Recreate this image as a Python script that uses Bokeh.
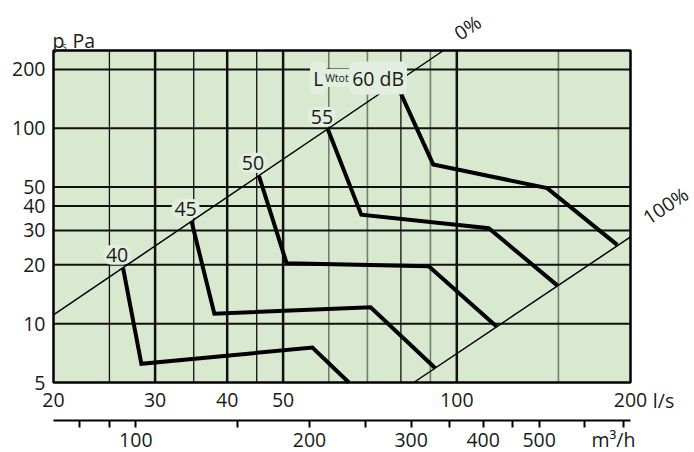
import math
from bokeh.plotting import figure
from bokeh.models import (Range1d, LogScale, LogAxis, FixedTicker, Label,
                          NumeralTickFormatter, CustomJSTickFormatter)
from bokeh.embed import file_html
from bokeh.resources import INLINE

FONT = "Open Sans"
TXT = "#1a1a1a"
FS = "19.5px"
GREEN = "#d9e9cf"
LBG = "#e2eedf"

# ---------------- data ----------------
X_LO, X_HI = 20, 200          # l/s
Y_LO, Y_HI = 5, 250           # Pa
LS_TO_M3H = 3.6

ls_ticks = [20, 30, 40, 50, 100, 200]
pa_ticks = [5, 10, 20, 30, 40, 50, 100, 200]
grid_x_thick = [30, 40, 50, 100]
grid_x_thin = [25, 35, 45, 80]
grid_x_grey = [60, 70, 90, 150]
grid_y = [10, 20, 30, 40, 50, 100, 200]
m3h_ticks = [80, 90, 100, 150, 200, 250, 300, 350, 400, 450, 500, 600, 700]
m3h_labelled = [100, 200, 300, 400, 500]

level_text = ["40", "45", "50", "55"]
q_40 = [26.4, 28.4, 56.2, 65.0]
p_40 = [19.3, 6.23, 7.55, 5.0]
q_45 = [34.7, 38.0, 70.9, 91.8]
p_45 = [33.3, 11.25, 12.13, 5.91]
q_50 = [45.4, 50.7, 89.4, 117.2]
p_50 = [57.1, 20.4, 19.7, 9.68]
q_55 = [59.8, 68.3, 113.6, 149.3]
p_55 = [98.5, 36.1, 30.8, 15.7]
q_60 = [78.5, 91.0, 143.4, 189.7]
p_60 = [170.3, 65.3, 49.4, 25.3]
curves = [(q_40, p_40), (q_45, p_45), (q_50, p_50), (q_55, p_55), (q_60, p_60)]

q_0pct = [20, 94.8]
p_0pct = [11.1, 250]
q_100pct = [84.2, 200]
p_100pct = [5.0, 27.8]

# ---------------- layout (pixels) ----------------
W, H = 694, 452
PL, PR, PT, PB = 53, 630, 50, 382
kx = (math.log10(X_HI) - math.log10(X_LO)) / (PR - PL)
ky = (math.log10(Y_HI) - math.log10(Y_LO)) / (PB - PT)


def dx(px):
    return 10 ** (math.log10(X_LO) + (px - PL) * kx)


def dy(py):
    return 10 ** (math.log10(Y_LO) + (PB - py) * ky)


p = figure(width=W, height=H, x_axis_type="log", y_axis_type="log",
           x_range=Range1d(dx(0), dx(W)), y_range=Range1d(dy(H), dy(0)),
           output_backend="svg", toolbar_location=None, title=None,
           min_border_left=0, min_border_right=0, min_border_top=0, min_border_bottom=0)
p.extra_x_ranges = {"m3h": Range1d(dx(0) * LS_TO_M3H, dx(W) * LS_TO_M3H)}
p.extra_x_scales = {"m3h": LogScale()}
p.background_fill_color = "white"
p.border_fill_color = "white"
p.outline_line_color = None
p.xgrid.visible = False
p.ygrid.visible = False

# plot area
p.quad(left=[X_LO], right=[X_HI], bottom=[Y_LO], top=[Y_HI], fill_color=GREEN, line_color=None)

# grid lines
p.segment(x0=grid_x_grey, x1=grid_x_grey, y0=[Y_LO] * len(grid_x_grey), y1=[Y_HI] * len(grid_x_grey),
          line_color="#6f806c", line_width=1.6)
p.segment(x0=grid_x_thin, x1=grid_x_thin, y0=[Y_LO] * len(grid_x_thin), y1=[Y_HI] * len(grid_x_thin),
          line_color="#111111", line_width=1.3)
p.segment(x0=grid_x_thick, x1=grid_x_thick, y0=[Y_LO] * len(grid_x_thick), y1=[Y_HI] * len(grid_x_thick),
          line_color="#111111", line_width=2.5)
p.segment(x0=[X_LO] * len(grid_y), x1=[X_HI] * len(grid_y), y0=grid_y, y1=grid_y,
          line_color="#111111", line_width=2)

# damper lines and sound curves
p.line(q_0pct, p_0pct, line_color="black", line_width=1.5)
p.line(q_100pct, p_100pct, line_color="black", line_width=1.5)
for q, pa in curves:
    p.line(q, pa, line_color="black", line_width=4, line_join="miter")

# frame
p.quad(left=[X_LO], right=[X_HI], bottom=[Y_LO], top=[Y_HI], fill_color=None,
       line_color="black", line_width=2.5)

# ---------------- axes ----------------
xa = p.xaxis[0]
xa.fixed_location = Y_LO
xa.bounds = (X_LO, X_HI)
xa.ticker = FixedTicker(ticks=ls_ticks)
xa.formatter = NumeralTickFormatter(format="0")
xa.axis_line_color = None
xa.major_tick_line_color = None
xa.minor_tick_line_color = None
xa.major_tick_out = 0
xa.major_tick_in = 0
xa.major_label_standoff = 10
xa.major_label_text_font = FONT
xa.major_label_text_font_size = FS
xa.major_label_text_color = TXT

ax2 = LogAxis(x_range_name="m3h", ticker=FixedTicker(ticks=m3h_ticks),
              formatter=CustomJSTickFormatter(args=dict(show=m3h_labelled),
                                              code="return show.includes(tick) ? String(tick) : ''"))
ax2.fixed_location = dy(420)
ax2.bounds = (X_LO * LS_TO_M3H, X_HI * LS_TO_M3H)
ax2.axis_line_width = 2
ax2.axis_line_color = "black"
ax2.major_tick_out = 7
ax2.major_tick_in = 0
ax2.major_tick_line_width = 2
ax2.major_tick_line_color = "black"
ax2.minor_tick_line_color = None
ax2.major_label_standoff = 5
ax2.major_label_text_font = FONT
ax2.major_label_text_font_size = FS
ax2.major_label_text_color = TXT
p.add_layout(ax2, "below")

ya = p.yaxis[0]
ya.fixed_location = X_LO
ya.bounds = (Y_LO, Y_HI)
ya.ticker = FixedTicker(ticks=pa_ticks)
ya.formatter = NumeralTickFormatter(format="0")
ya.axis_line_color = None
ya.major_tick_line_color = None
ya.minor_tick_line_color = None
ya.major_tick_out = 0
ya.major_tick_in = 0
ya.major_label_standoff = 8
ya.major_label_text_font = FONT
ya.major_label_text_font_size = FS
ya.major_label_text_color = TXT

# ---------------- texts ----------------
def lab(x, y, text, size=FS, align="center", baseline="middle", angle=0.0, xo=0, yo=0, bg=None, **kw):
    extra = {}
    if bg is not None:
        extra = dict(background_fill_color=bg, **kw)
    p.add_layout(Label(x=x, y=y, x_offset=xo, y_offset=yo, text=text, text_align=align,
                       text_baseline=baseline, angle=angle, text_font=FONT,
                       text_font_size=size, text_color=TXT, **extra))


# curve level labels, anchored at each curve's start on the 0% line
for t, (q, pa) in zip(level_text, curves[:4]):
    lab(q[0], pa[0], t, xo=-6, yo=13, bg=LBG, padding=3, border_radius=9)

# L_Wtot 60 dB (anchored at 60 dB curve start)
lab(q_60[0], p_60[0], "L", align="left", baseline="alphabetic",
    xo=-86, yo=5, bg=LBG, padding=3, border_radius=6)
lab(q_60[0], p_60[0], "Wtot", size="10.5px", align="left", baseline="alphabetic",
    xo=-73, yo=5, bg=LBG, padding=2)
lab(q_60[0], p_60[0], "60 dB", align="left", baseline="alphabetic",
    xo=-47, yo=5, bg=LBG, padding=3, border_radius=6)

# texts outside the plot area
lab(dx(467), dy(27), "0%", angle=0.59)
lab(dx(665), dy(205), "100%", angle=0.59)
lab(dx(663), dy(400), "l/s")
lab(dx(613), dy(439), "m³/h")
lab(dx(52), dy(40), "p", align="left", baseline="alphabetic")
lab(dx(61), dy(45), "s", size="11px", align="left", baseline="alphabetic")
lab(dx(72), dy(40), "Pa", align="left", baseline="alphabetic")

open("out.html", "w").write(file_html(p, INLINE))
